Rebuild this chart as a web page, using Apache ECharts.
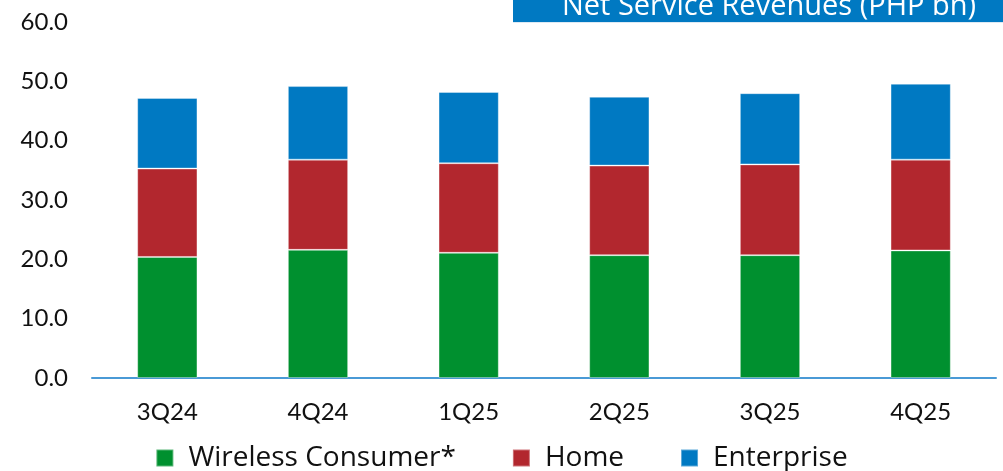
<!DOCTYPE html>
<html>
<head>
<meta charset="utf-8">
<script src="https://cdn.jsdelivr.net/npm/echarts@6/dist/echarts.min.js"></script>
<style>html,body{margin:0;padding:0;background:#fff}#c{width:1003px;height:471px}</style>
</head>
<body>
<div id="c"></div>
<script>
var categories = ['3Q24', '4Q24', '1Q25', '2Q25', '3Q25', '4Q25'];
var wireless = [20.4, 21.6, 21.1, 20.7, 20.7, 21.5];
var home = [14.9, 15.2, 15.1, 15.1, 15.3, 15.3];
var enterprise = [11.9, 12.4, 12.0, 11.6, 12.0, 12.8];
var yTicks = [0, 10, 20, 30, 40, 50, 60];
var title = 'Net Service Revenues (PHP bn)';

var FONT = 'Lato';
var FONT2 = 'Open Sans';
var chart = echarts.init(document.getElementById('c'), null, {renderer: 'canvas'});
function bar(name, data, color) {
  return {
    name: name, type: 'bar', stack: 'total', data: data, barWidth: '40%',
    itemStyle: {color: color, borderColor: 'rgba(255,255,255,0.35)', borderWidth: 1},
    emphasis: {disabled: true}
  };
}
chart.setOption({
  animation: false,
  textStyle: {fontFamily: FONT},
  grid: {left: 92, right: 7, top: 22, bottom: 93},
  xAxis: {
    type: 'category', data: categories,
    axisLine: {lineStyle: {color: '#4a9ad6', width: 2}},
    axisTick: {show: false},
    axisLabel: {color: '#111', fontSize: 24, margin: 22, fontFamily: FONT}
  },
  yAxis: {
    type: 'value', min: yTicks[0], max: yTicks[yTicks.length - 1], interval: 10,
    splitLine: {show: false},
    axisLine: {show: false}, axisTick: {show: false},
    axisLabel: {color: '#111', fontSize: 24, margin: 24, fontFamily: FONT,
      formatter: function (v) { return v.toFixed(1); }}
  },
  legend: {
    top: 439, left: 'center', itemWidth: 17, itemHeight: 17, itemGap: 56,
    icon: 'rect',
    textStyle: {fontSize: 28, color: '#111', fontFamily: FONT2, padding: [0, 0, 0, 10]},
    data: ['Wireless Consumer*', 'Home', 'Enterprise']
  },
  graphic: [
    {type: 'rect', shape: {x: 513, y: 0, width: 490, height: 22}, style: {fill: '#0079c2'}, z: 10},
    {type: 'rect', shape: {x: 513, y: 22, width: 490, height: 1}, style: {fill: '#dde9f3'}, z: 10},
    {type: 'text', x: 769, y: 7, z: 11,
      style: {text: title, fill: '#fff', font: '29px "' + FONT2 + '"', align: 'center', verticalAlign: 'middle'}}
  ],
  series: [
    bar('Wireless Consumer*', wireless, '#00902f'),
    bar('Home', home, '#b2272e'),
    bar('Enterprise', enterprise, '#0079c2')
  ]
});
</script>
</body>
</html>
